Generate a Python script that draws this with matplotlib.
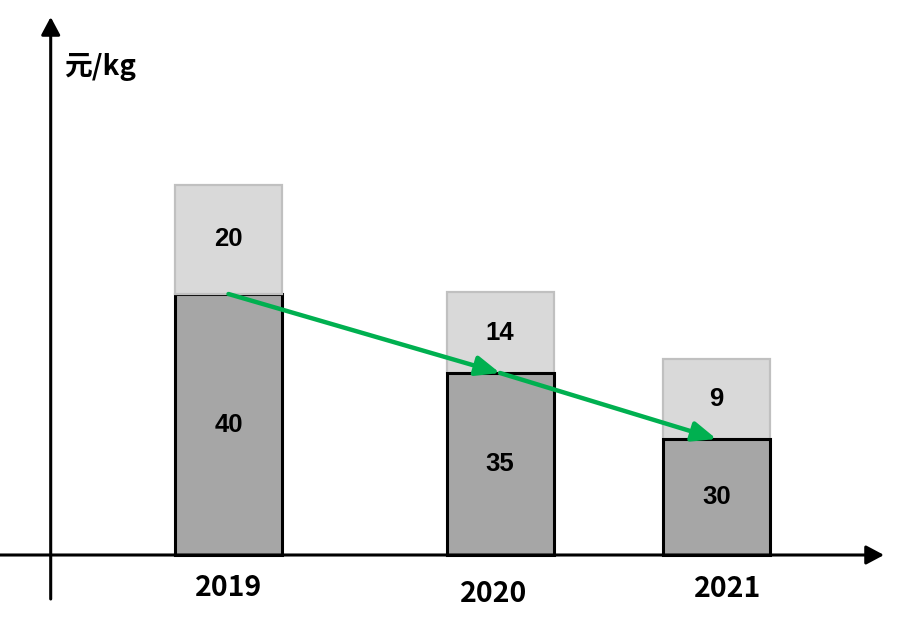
import matplotlib
matplotlib.use("Agg")
import matplotlib.pyplot as plt
from matplotlib.patches import Rectangle

plt.rcParams['font.family'] = ['Noto Sans CJK SC', 'DejaVu Sans']

# data
years = ['2019', '2020', '2021']
low_values = [40, 35, 30]
high_values = [20, 14, 9]
# the source chart is not drawn to scale, so the drawn segment heights
# are read off the picture separately (units = pixels above the x axis)
low_heights = [261, 182, 116]
high_heights = [109, 81, 80]
unit = '元/kg'

# layout
centers = [228.5, 500, 716.5]
bar_w = 107
label_dx = [0, -6, 11]
label_dy = [-33, -39, -34]
black_top = [False, True, True]

fig = plt.figure(figsize=(9, 6.28), dpi=100)
ax = fig.add_axes([0, 0, 1, 1])
ax.set_xlim(0, 900)
ax.set_ylim(-73, 555)
ax.axis('off')

num_font = ['Liberation Sans', 'DejaVu Sans']

for i in range(len(years)):
    x0 = centers[i] - bar_w / 2
    lo = low_heights[i]
    hi = high_heights[i]
    z_low = 3 if black_top[i] else 2
    ax.add_patch(Rectangle((x0, 0), bar_w, lo, facecolor='#a6a6a6',
                           edgecolor='black', lw=2.2, zorder=z_low))
    ax.add_patch(Rectangle((x0, lo), bar_w, hi, facecolor='#d9d9d9',
                           edgecolor='#c0c0c0', lw=1.6, zorder=5 - z_low))
    ax.text(centers[i], lo / 2, str(low_values[i]), ha='center', va='center',
            fontsize=18.5, fontweight='bold', family=num_font, zorder=6)
    ax.text(centers[i], lo + hi / 2, str(high_values[i]), ha='center',
            va='center', fontsize=18.5, fontweight='bold', family=num_font,
            zorder=6)
    ax.text(centers[i] + label_dx[i], label_dy[i], years[i], ha='center',
            va='center', fontsize=20.5, fontweight='bold')

# green trend arrows
for i in range(len(years) - 1):
    ax.annotate('', xy=(centers[i + 1], low_heights[i + 1]),
                xytext=(centers[i], low_heights[i]),
                arrowprops=dict(arrowstyle='-|>,head_length=0.6,head_width=0.25',
                                mutation_scale=24, lw=3.2, color='#00b050',
                                shrinkA=0, shrinkB=0),
                zorder=7)

# axes with arrows
axis_arrow = dict(arrowstyle='-|>,head_length=0.6,head_width=0.32',
                  mutation_scale=18, lw=2.2, color='black',
                  shrinkA=0, shrinkB=0)
ax.annotate('', xy=(884, 0), xytext=(0, 0), arrowprops=axis_arrow, zorder=8)
ax.annotate('', xy=(50.7, 538), xytext=(50.7, -44), arrowprops=axis_arrow,
            zorder=8)

ax.text(64, 488, unit, ha='left', va='center', fontsize=20, fontweight='bold')

fig.savefig('out.png', dpi=100)
